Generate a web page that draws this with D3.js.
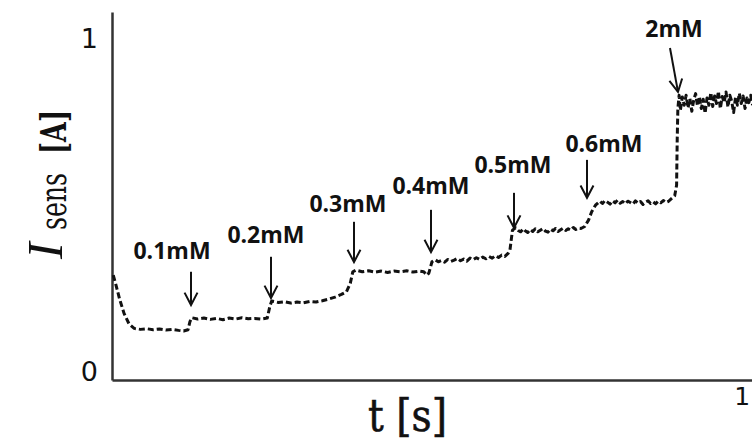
<!DOCTYPE html>
<html>
<head>
<meta charset="utf-8">
<script src="https://cdn.jsdelivr.net/npm/d3@7/dist/d3.min.js"></script>
<style>
  html, body { margin: 0; padding: 0; background: #fff; }
  svg { display: block; }
</style>
</head>
<body>
<svg id="chart" width="752" height="441"></svg>
<script>
// ---- data (normalised units) ----
const timeValues = [
  0.002, 0.006, 0.012, 0.019, 0.027, 0.035, 0.045, 0.055, 0.065, 0.075, 0.085, 0.095, 0.105, 0.113, 0.120,
  0.123, 0.126, 0.135, 0.145, 0.155, 0.165, 0.175, 0.185, 0.195, 0.205, 0.215, 0.225, 0.235, 0.245,
  0.249, 0.252, 0.262, 0.272, 0.282, 0.292, 0.302, 0.312, 0.322, 0.332, 0.342, 0.352, 0.362, 0.370,
  0.376, 0.380, 0.385, 0.395, 0.405, 0.415, 0.425, 0.435, 0.445, 0.455, 0.465, 0.475, 0.485, 0.492, 0.497, 0.500,
  0.505, 0.510, 0.515, 0.520, 0.525, 0.530, 0.535, 0.540, 0.545, 0.550, 0.555, 0.560, 0.565, 0.570, 0.575, 0.580, 0.585, 0.590, 0.595, 0.600, 0.605, 0.610, 0.615, 0.620, 0.625, 0.628,
  0.630, 0.632, 0.637, 0.641, 0.645, 0.649, 0.652, 0.656, 0.660, 0.664, 0.668, 0.672, 0.676, 0.680, 0.684, 0.688, 0.692, 0.696, 0.700, 0.704, 0.708, 0.712, 0.716, 0.720, 0.724, 0.728, 0.732, 0.736, 0.740, 0.746,
  0.752, 0.757, 0.763, 0.770, 0.774, 0.778, 0.782, 0.786, 0.790, 0.794, 0.798, 0.802, 0.806, 0.810, 0.814, 0.818, 0.822, 0.826, 0.830, 0.834, 0.838, 0.842, 0.846, 0.850, 0.854, 0.858, 0.862, 0.866, 0.870, 0.874, 0.878, 0.882, 0.888,
  0.891, 0.892, 0.893, 0.895,
  0.897, 0.900, 0.903, 0.906, 0.909, 0.912, 0.915, 0.918, 0.921, 0.924, 0.927, 0.930, 0.933, 0.936, 0.939, 0.942, 0.945, 0.948, 0.951, 0.954, 0.957, 0.960,
  0.963, 0.966, 0.969, 0.972, 0.975, 0.978, 0.981, 0.984, 0.987, 0.990, 0.993, 0.996, 0.999, 1.002, 1.005, 1.008, 1.011
];
const currentValues = [
  0.290, 0.262, 0.218, 0.175, 0.143, 0.130, 0.127, 0.129, 0.126, 0.128, 0.125, 0.127, 0.124, 0.122, 0.126,
  0.150, 0.162, 0.158, 0.161, 0.157, 0.160, 0.156, 0.161, 0.158, 0.162, 0.159, 0.160, 0.158, 0.161,
  0.195, 0.212, 0.208, 0.210, 0.206, 0.209, 0.207, 0.211, 0.209, 0.213, 0.218, 0.224, 0.232, 0.240,
  0.265, 0.300, 0.305, 0.300, 0.303, 0.299, 0.302, 0.298, 0.302, 0.300, 0.303, 0.299, 0.302, 0.300, 0.290, 0.296,
  0.330, 0.336, 0.330, 0.334, 0.329, 0.337, 0.331, 0.335, 0.340, 0.333, 0.338, 0.332, 0.341, 0.336, 0.342, 0.337, 0.344, 0.339, 0.346, 0.341, 0.348, 0.343, 0.350, 0.346, 0.355, 0.365,
  0.395, 0.425, 0.432, 0.424, 0.420, 0.429, 0.423, 0.418, 0.427, 0.421, 0.429, 0.420, 0.425, 0.430, 0.422, 0.419, 0.428, 0.423, 0.430, 0.421, 0.426, 0.431, 0.424, 0.429, 0.425, 0.433, 0.427, 0.431, 0.430, 0.436,
  0.455, 0.480, 0.500, 0.512, 0.505, 0.514, 0.509, 0.503, 0.513, 0.507, 0.515, 0.506, 0.511, 0.504, 0.512, 0.508, 0.503, 0.513, 0.506, 0.511, 0.502, 0.509, 0.513, 0.505, 0.510, 0.504, 0.512, 0.507, 0.514, 0.508, 0.511, 0.518, 0.528,
  0.560, 0.700, 0.790, 0.830,
  0.785, 0.825, 0.800, 0.830, 0.792, 0.820, 0.782, 0.815, 0.835, 0.798, 0.826, 0.790, 0.818, 0.776, 0.822, 0.800, 0.838, 0.796, 0.828, 0.805, 0.842, 0.790,
  0.826, 0.808, 0.840, 0.795, 0.830, 0.812, 0.778, 0.824, 0.800, 0.836, 0.805, 0.828, 0.790, 0.822, 0.808, 0.830, 0.800
];

const yTickValues = [0, 1];
const xTickValues = [1];

const annotationLabels = ["0.1mM", "0.2mM", "0.3mM", "0.4mM", "0.5mM", "0.6mM", "2mM"];
const labelT   = [0.0947, 0.2430, 0.3724, 0.5034, 0.6328, 0.7764, 0.8869];
const labelI   = [0.338, 0.386, 0.480, 0.534, 0.597, 0.660, 1.005];
const arrowFromT = [0.1247, 0.2509, 0.3819, 0.5034, 0.6344, 0.7496, 0.8806];
const arrowFromI = [0.300, 0.345, 0.450, 0.486, 0.537, 0.636, 0.972];
const arrowToT   = [0.1247, 0.2509, 0.3819, 0.5034, 0.6344, 0.7496, 0.8932];
const arrowToI   = [0.200, 0.221, 0.329, 0.359, 0.432, 0.522, 0.840];

// ---- drawing ----
const svg = d3.select("#chart");
const x = d3.scaleLinear().domain([0, 1.01]).range([112, 752]);
const y = d3.scaleLinear().domain([-0.025, 1.08]).range([380, 12]);

const points = timeValues.map((t, i) => [t, currentValues[i]]);

const ink = "#111";

// axes
const yAxis = d3.axisLeft(y).tickValues(yTickValues).tickSize(0).tickPadding(14)
  .tickFormat(d3.format("d"));
const gy = svg.append("g").attr("transform", `translate(${x(0)},0)`).call(yAxis);
gy.attr("font-size", null).attr("font-family", null);
gy.select(".domain").attr("stroke", "#333").attr("stroke-width", 2.5);
gy.selectAll("text").attr("font-family", "DejaVu Sans").attr("font-size", 27)
  .attr("fill", ink).attr("dy", "0.33em");

const xAxis = d3.axisBottom(x).tickValues(xTickValues).tickSize(0).tickPadding(7)
  .tickFormat(d3.format("d"));
const gx = svg.append("g").attr("transform", `translate(0,${y.range()[0]})`).call(xAxis);
gx.attr("font-size", null).attr("font-family", null);
gx.select(".domain").attr("stroke", "#333").attr("stroke-width", 2.5);
gx.selectAll("text").attr("font-family", "DejaVu Sans").attr("font-size", 25)
  .attr("fill", ink).attr("dx", -4);

// data line
const line = d3.line().x(d => x(d[0])).y(d => y(d[1]));
svg.append("path")
  .datum(points)
  .attr("d", line)
  .attr("fill", "none")
  .attr("stroke", ink)
  .attr("stroke-width", 3)
  .attr("stroke-dasharray", "6,3")
  .attr("stroke-linejoin", "round");

// arrows
const ann = svg.append("g");
annotationLabels.forEach((lab, i) => {
  const x1 = x(arrowFromT[i]), y1 = y(arrowFromI[i]);
  const x2 = x(arrowToT[i]), y2 = y(arrowToI[i]);
  ann.append("line")
    .attr("x1", x1).attr("y1", y1).attr("x2", x2).attr("y2", y2)
    .attr("stroke", ink).attr("stroke-width", 2);
  const ang = Math.atan2(y2 - y1, x2 - x1);
  const hl = 14, spread = 0.48;
  const pA = [x2 - hl * Math.cos(ang - spread), y2 - hl * Math.sin(ang - spread)];
  const pB = [x2 - hl * Math.cos(ang + spread), y2 - hl * Math.sin(ang + spread)];
  ann.append("path")
    .attr("d", `M${pA[0]},${pA[1]}L${x2},${y2}L${pB[0]},${pB[1]}`)
    .attr("fill", "none").attr("stroke", ink).attr("stroke-width", 2);
  ann.append("text")
    .attr("x", x(labelT[i])).attr("y", y(labelI[i]))
    .attr("text-anchor", "middle")
    .attr("font-family", "Open Sans")
    .attr("font-weight", "bold")
    .attr("font-size", 23)
    .attr("fill", ink)
    .text(lab);
});

// x axis title
svg.append("text")
  .attr("x", 368).attr("y", 431)
  .attr("font-family", "DejaVu Serif")
  .attr("font-size", 44)
  .attr("textLength", 79)
  .attr("lengthAdjust", "spacingAndGlyphs")
  .attr("fill", ink)
  .attr("stroke", ink).attr("stroke-width", 0.6)
  .text("t [s]");

// y axis title (rotated)
const yt = svg.append("g").attr("transform", "rotate(-90)");
yt.append("text")
  .attr("x", -259).attr("y", 62)
  .attr("font-family", "Liberation Serif").attr("font-style", "italic")
  .attr("font-size", 50)
  .attr("fill", ink).text("I");
yt.append("text")
  .attr("x", -230).attr("y", 66)
  .attr("font-family", "DejaVu Serif")
  .attr("font-size", 38)
  .attr("textLength", 57).attr("lengthAdjust", "spacingAndGlyphs")
  .attr("fill", ink).text("sens");
yt.append("text")
  .attr("x", -154).attr("y", 66)
  .attr("font-family", "DejaVu Serif").attr("font-weight", "bold")
  .attr("font-size", 35)
  .attr("textLength", 44).attr("lengthAdjust", "spacingAndGlyphs")
  .attr("fill", ink).text("[A]");
</script>
</body>
</html>
